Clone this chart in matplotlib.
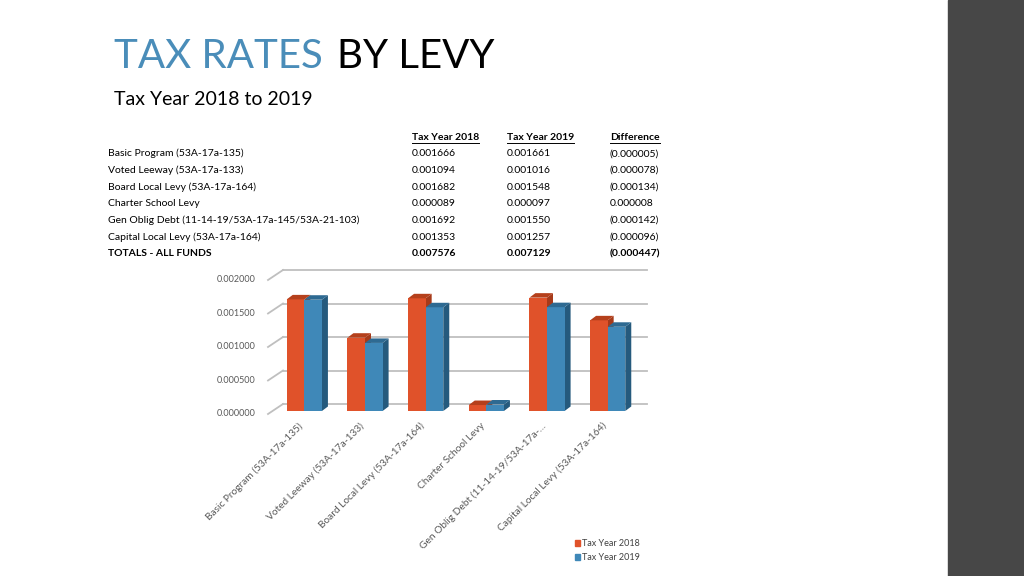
import matplotlib
matplotlib.use("Agg")
import matplotlib.pyplot as plt
from matplotlib.patches import Polygon, Rectangle

# ───────── DATA ─────────
levies = ["Basic Program (53A-17a-135)", "Voted Leeway (53A-17a-133)",
          "Board Local Levy (53A-17a-164)", "Charter School Levy",
          "Gen Oblig Debt (11-14-19/53A-17a-145/53A-21-103)",
          "Capital Local Levy (53A-17a-164)"]
axis_labels = ["Basic Program (53A-17a-135)", "Voted Leeway (53A-17a-133)",
               "Board Local Levy (53A-17a-164)", "Charter School Levy",
               "Gen Oblig Debt (11-14-19/53A-17a-\u2026",
               "Capital Local Levy (53A-17a-164)"]
rate_2018 = [0.001666, 0.001094, 0.001682, 0.000089, 0.001692, 0.001353]
rate_2019 = [0.001661, 0.001016, 0.001548, 0.000097, 0.001550, 0.001257]
diff_text = ["(0.000005)", "(0.000078)", "(0.000134)", "0.000008",
             "(0.000142)", "(0.000096)"]
totals = ["0.007576", "0.007129", "(0.000447)"]
yticks = [0.0, 0.0005, 0.001, 0.0015, 0.002]
series_names = ["Tax Year 2018", "Tax Year 2019"]

W, H = 1024, 576
plt.rcParams['font.family'] = ['Lato', 'DejaVu Sans']
fig = plt.figure(figsize=(W / 100, H / 100), dpi=100)

def fx(x):
    return x / W

def fy(y):
    return 1 - y / H

# dark strip on the right
fig.patches.append(Rectangle((fx(948), 0), 1 - fx(948), 1, transform=fig.transFigure,
                             color="#474747", zorder=0))

# ───────── TITLE ─────────
t1 = fig.text(fx(114), fy(68), "TAX RATES", fontsize=29, color="#4A8DB9",
              va="baseline")
fig.canvas.draw()
r = fig.canvas.get_renderer()
x_end = t1.get_window_extent(r).x1
fig.text((x_end + 14) / W, fy(68), "BY LEVY", fontsize=29, color="black",
         va="baseline")
fig.text(fx(114), fy(105), "Tax Year 2018 to 2019", fontsize=14, color="black",
         va="baseline")

# ───────── TABLE ─────────
col_x = [108, 412, 507, 610]
row_y = [137 + 16.7 * k for k in range(8)]
tsize = 7.5
heads = []
for j, head in enumerate(series_names + ["Difference"]):
    heads.append(fig.text(fx(col_x[j + 1]), fy(row_y[0]), head, fontsize=tsize,
                          weight="bold", va="center"))
fig.canvas.draw()
for t in heads:
    bb = t.get_window_extent(r)
    fig.add_artist(plt.Line2D([bb.x0 / W, bb.x1 / W], [(bb.y0 - 1) / H] * 2,
                              transform=fig.transFigure, color="black", lw=0.7))
for k in range(len(levies)):
    y = fy(row_y[k + 1])
    fig.text(fx(col_x[0]), y, levies[k], fontsize=tsize, va="center")
    fig.text(fx(col_x[1]), y, f"{rate_2018[k]:.6f}", fontsize=tsize, va="center")
    fig.text(fx(col_x[2]), y, f"{rate_2019[k]:.6f}", fontsize=tsize, va="center")
    fig.text(fx(col_x[3]), y, diff_text[k], fontsize=tsize, va="center")
y = fy(row_y[7])
fig.text(fx(col_x[0]), y, "TOTALS - ALL FUNDS", fontsize=tsize, weight="bold", va="center")
for j in range(3):
    fig.text(fx(col_x[j + 1]), y, totals[j], fontsize=tsize, weight="bold", va="center")

# ───────── 3D-LOOK BAR CHART ─────────
ax = fig.add_axes([fx(274), fy(411), 364 / W, 134 / H])
ax.set_xlim(-0.5, 5.5)
ax.set_ylim(0, 0.002)
ax.axis("off")
px_x = 364 / 6.0
px_y = 134 / 0.002

bx, by = 9 / px_x, 7 / px_y      # back wall offset
fxo, fyo = -6 / px_x, -3 / px_y  # front plane offset
grid_c = "#BFBFBF"
for v in yticks:
    ax.plot([-0.5 + bx, 5.5 + bx], [v + by, v + by], color=grid_c, lw=1.3,
            clip_on=False, zorder=1)
    ax.plot([-0.5 + fxo, -0.5 + bx], [v + fyo, v + by], color=grid_c, lw=1.3,
            clip_on=False, zorder=1)
    ax.text(-0.5 - 18 / px_x, v + fyo, f"{v:.6f}", fontsize=6.5, color="#595959",
            ha="right", va="center")

w = 0.29
dd_x, dd_y = 6 / px_x, 4.5 / px_y
styles = [("#E0522A", "#B5401C", "#A63A1A"), ("#3F88B8", "#2E6A92", "#255A7D")]
z = 3
for i in range(len(levies)):
    for s, vals in enumerate([rate_2018, rate_2019]):
        front, top, side = styles[s]
        h = vals[i]
        x0 = i - w + s * w
        x1 = x0 + w
        ax.add_patch(Polygon([(x1, 0), (x1 + dd_x, dd_y), (x1 + dd_x, h + dd_y), (x1, h)],
                             closed=True, facecolor=side, edgecolor="none",
                             clip_on=False, zorder=z))
        ax.bar(x0, h, width=w, align="edge", color=front, edgecolor="none",
               zorder=z + 1, clip_on=False)
        ax.add_patch(Polygon([(x0, h), (x1, h), (x1 + dd_x, h + dd_y), (x0 + dd_x, h + dd_y)],
                             closed=True, facecolor=top, edgecolor="none",
                             clip_on=False, zorder=z + 2))
        z += 3

for i, lab in enumerate(axis_labels):
    ax.text(i - 6 / px_x, -10 / px_y, lab, fontsize=7.3, color="#595959",
            rotation=45, rotation_mode="anchor", ha="right", va="top")

# ───────── LEGEND ─────────
for s, name in enumerate(series_names):
    yy = 543 + 14 * s
    fig.patches.append(Rectangle((fx(575), fy(yy + 3)), 5 / W, 6 / H,
                                 transform=fig.transFigure, color=styles[s][0]))
    fig.text(fx(582), fy(yy), name, fontsize=6.5, color="#404040", va="center")

fig.savefig("out.png", dpi=100)
